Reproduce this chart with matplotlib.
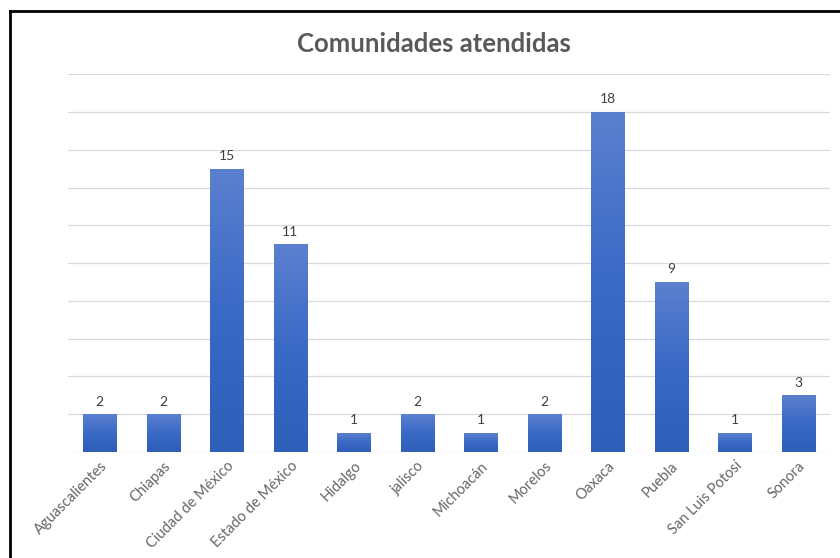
import numpy as np
import matplotlib.pyplot as plt
from matplotlib.lines import Line2D
from matplotlib.colors import LinearSegmentedColormap

plt.rcParams['font.family'] = ['Lato', 'DejaVu Sans']

estados = ["Aguascalientes", "Chiapas", "Ciudad de México", "Estado de México",
           "Hidalgo", "jalisco", "Michoacán", "Morelos", "Oaxaca", "Puebla",
           "San Luis Potosí", "Sonora"]
comunidades = [2, 2, 15, 11, 1, 2, 1, 2, 18, 9, 1, 3]

fig = plt.figure(figsize=(8.4, 5.58), dpi=100)
ax = fig.add_axes([0.081, 0.19, 0.907, 0.677])

x = np.arange(len(estados))
barras = ax.bar(x, comunidades, width=0.52, color="none", edgecolor="none", zorder=3)

# degradado vertical dentro de cada barra
grad = np.linspace(0, 1, 256).reshape(-1, 1)
cmap = LinearSegmentedColormap.from_list("azul", ["#2f5fb9", "#3a69c6", "#5b80cf"])
for b in barras:
    x0, y0 = b.get_x(), b.get_y()
    w, h = b.get_width(), b.get_height()
    im = ax.imshow(grad, extent=[x0, x0 + w, y0, y0 + h], origin="lower",
                   aspect="auto", cmap=cmap, zorder=3)
    im.set_clip_path(b)
    ax.text(x0 + w / 2, h + 0.35, str(int(h)), ha="center", va="bottom",
            fontsize=10, color="#404040")

ax.set_xlim(-0.5, len(estados) - 0.5)
ax.set_ylim(0, 20)
ax.set_yticks(np.arange(0, 21, 2))
ax.set_yticklabels([])
ax.tick_params(axis="y", length=0)
ax.tick_params(axis="x", length=0, pad=5)
ax.set_xticks(x)
ax.set_xticklabels(estados, rotation=45, ha="right", rotation_mode="anchor",
                   fontsize=10.5, color="#666666")
ax.grid(axis="y", color="#d9d9d9", linewidth=0.9, zorder=0)
for s in ax.spines.values():
    s.set_visible(False)

fig.text(0.517, 0.922, "Comunidades atendidas", ha="center", va="center",
         fontsize=18.5, fontweight="bold", color="#595959")

# marco negro del recorte
fig.add_artist(Line2D([0.012, 0.012], [0.0, 0.98], color="black", linewidth=2))
fig.add_artist(Line2D([0.012, 1.0], [0.98, 0.98], color="black", linewidth=2))

fig.savefig("out.png", dpi=100)
